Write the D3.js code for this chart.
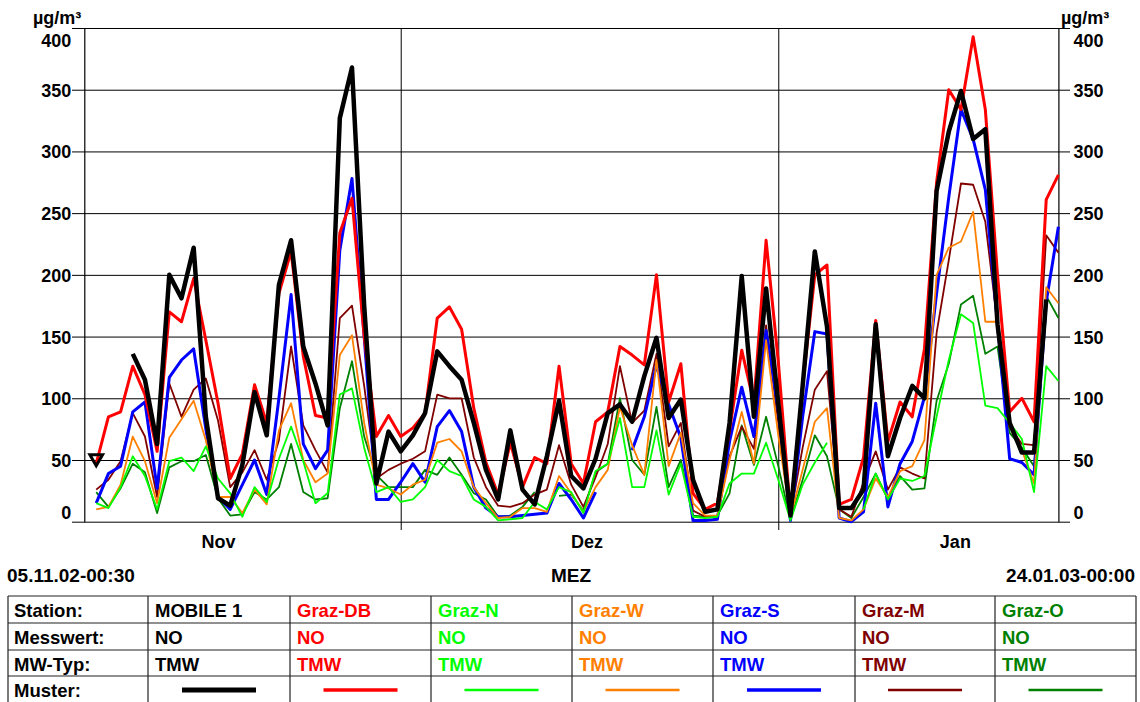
<!DOCTYPE html>
<html>
<head>
<meta charset="utf-8">
<script src="https://cdn.jsdelivr.net/npm/d3@7"></script>
<style>
  body { margin: 0; background: #fff; }
  text { font-family: "Liberation Sans", Arial, sans-serif; font-weight: bold; }
</style>
</head>
<body>
<div id="container"></div>
<script>
/* DATA - NO daily means (TMW), one value per day, 05.11.02 .. 23.01.03 */
const firstDay = Date.UTC(2002, 10, 6);   // daily mean is plotted at the end of its day
const mobile1 = [52,null,null,136,115,63,200,181,222,85,19,13,46,105,70,192,228,142,112,78,
  327,368,175,31,73,57,70,88,138,126,115,80,42,18,74,26,14,53,98,37,
  27,51,88,95,81,118,149,84,99,34,8,10,80,199,85,189,96,5,110,219,
  158,11,11,26,160,53,84,110,100,268,316,349,310,318,160,80,56,56,180,null];
const grazDB = [47,85,89,126,103,57,170,162,197,147,96,35,55,111,80,185,219,134,86,84,
  234,262,150,69,86,69,76,88,165,174,156,92,48,22,64,28,52,47,126,47,
  31,81,89,142,135,127,200,97,128,23,10,15,74,139,96,228,130,7,110,200,
  208,14,18,52,163,65,97,85,140,275,350,334,393,334,200,89,100,81,261,281];
const grazN = [15,11,28,53,37,10,49,52,41,61,35,23,4,28,16,51,77,49,15,23,
  103,108,60,24,28,16,18,28,50,41,37,18,12,1,2,3,16,10,28,24,
  7,41,47,84,28,28,74,22,47,4,3,4,31,39,39,64,34,1,30,48,
  64,null,null,10,39,18,35,33,37,85,131,168,161,94,92,80,67,24,126,114];
const grazW = [10,12,30,69,49,15,68,83,98,66,20,20,7,26,14,74,96,50,32,39,
  135,151,80,30,27,22,30,34,64,67,57,28,15,3,4,11,11,8,37,23,
  8,28,42,93,62,38,131,45,72,15,5,5,50,89,47,147,70,4,42,81,
  92,3,1,10,35,20,41,45,66,200,222,227,251,162,162,77,58,31,190,177];
const grazS = [15,39,45,89,97,27,117,131,140,75,20,10,30,50,22,100,184,63,43,58,
  220,278,150,18,18,32,47,32,77,90,73,28,11,4,4,5,6,7,31,18,
  3,24,null,null,58,85,127,95,68,1,1,2,65,109,69,155,90,1,85,154,
  152,3,0,8,96,12,47,65,101,185,263,334,310,269,160,51,48,38,178,239];
const grazM = [26,34,49,88,69,20,112,85,107,116,82,28,40,58,34,66,142,78,58,40,
  165,175,110,35,42,47,51,57,103,100,100,52,28,13,12,15,22,26,62,30,
  12,36,63,126,80,90,136,61,80,9,4,5,53,77,59,159,80,5,60,107,
  122,10,4,32,57,26,44,39,35,153,212,274,273,243,160,77,63,62,232,218];
const grazO = [24,12,27,47,40,7,44,49,49,54,19,5,6,24,18,28,63,24,18,19,
  92,130,69,38,28,28,28,42,38,52,38,23,18,4,5,12,24,null,21,22,
  9,40,47,100,50,38,93,28,50,5,4,5,23,78,46,85,45,1,34,70,
  53,10,3,20,39,18,37,26,27,98,128,176,183,136,142,72,60,45,183,165];

const stations = ["MOBILE 1", "Graz-DB", "Graz-N", "Graz-W", "Graz-S", "Graz-M", "Graz-O"];
const seriesValues = [mobile1, grazDB, grazN, grazW, grazS, grazM, grazO];
const colors = ["#000000", "#ff0000", "#00ff00", "#ff8000", "#0000ff", "#800000", "#008000"];
const widths = [4.5, 3, 1.8, 1.8, 3, 1.8, 1.8];

const yTicks = [0, 50, 100, 150, 200, 250, 300, 350, 400];
const monthNames = ["Nov", "Dez", "Jan"];
const monthMids = [Date.UTC(2002, 10, 16), Date.UTC(2002, 11, 16, 6), Date.UTC(2003, 0, 15, 12)];
const monthStarts = [Date.UTC(2002, 11, 1), Date.UTC(2003, 0, 1)];

const DAY = 24 * 3600 * 1000;

/* SVG */
const W = 1140, H = 702;
const plot = { left: 84.3, right: 1058.4, top: 28, bottom: 521.7 };

const svg = d3.select("#container").append("svg")
  .attr("width", W)
  .attr("height", H);

/* SCALES */
const x = d3.scaleUtc()
  .domain([Date.UTC(2002, 10, 5, 0, 30), Date.UTC(2003, 0, 24)])
  .range([plot.left, plot.right]);
const y = d3.scaleLinear().domain([0, 400]).range([plot.bottom, plot.top]);

/* GRID LINES (extend a bit past both axes) */
svg.append("g")
  .attr("transform", "translate(72,0)")
  .call(d3.axisRight(y).tickValues(yTicks).tickSize(998).tickFormat(""))
  .call(g => g.select(".domain").remove())
  .selectAll("line").attr("stroke", "#000").attr("stroke-width", 1);

/* MONTH DIVIDERS */
svg.append("g")
  .attr("transform", "translate(0,530)")
  .call(d3.axisBottom(x).tickValues(monthStarts).tickSize(-(530 - plot.top)).tickFormat(""))
  .call(g => g.select(".domain").remove())
  .selectAll("line").attr("stroke", "#000");

/* Y AXES */
const yLeft = svg.append("g")
  .attr("transform", "translate(" + plot.left + ",0)")
  .call(d3.axisLeft(y).tickValues(yTicks).tickSize(0).tickSizeOuter(0).tickPadding(13));
const yRight = svg.append("g")
  .attr("transform", "translate(" + plot.right + ",0)")
  .call(d3.axisRight(y).tickValues(yTicks).tickSize(0).tickSizeOuter(0).tickPadding(15));

[yLeft, yRight].forEach(g => {
  g.attr("font-size", null).attr("font-family", null);
  g.select(".domain").attr("stroke", "#000").attr("stroke-width", 1.2);
  g.selectAll("text")
    .style("font-size", "18px")
    .attr("fill", "#000")
    .attr("dy", d => d === 400 ? "1.05em" : d === 0 ? "-0.2em" : "0.36em");
});

/* UNIT LABELS */
svg.append("text").attr("x", 33).attr("y", 24).style("font-size", "18px").text("µg/m³");
svg.append("text").attr("x", 1061).attr("y", 24).style("font-size", "18px").text("µg/m³");

/* MONTH LABELS */
const xMonths = svg.append("g")
  .attr("transform", "translate(0," + plot.bottom + ")")
  .call(d3.axisBottom(x).tickValues(monthMids).tickSize(0).tickPadding(14)
    .tickFormat((d, i) => monthNames[i]));
xMonths.select(".domain").remove();
xMonths.attr("font-size", null).attr("font-family", null)
  .selectAll("text").style("font-size", "18px").attr("fill", "#000");

/* LINES */
const lineGen = d3.line()
  .defined(d => d.v != null)
  .x(d => x(d.t))
  .y(d => y(d.v));

const series = seriesValues.map((vals, s) => ({
  name: stations[s],
  color: colors[s],
  width: widths[s],
  points: vals.map((v, i) => ({ t: firstDay + i * DAY, v: v }))
}));

// first station is drawn last so it sits on top
svg.append("g").selectAll("path")
  .data(series.slice().reverse())
  .join("path")
  .attr("fill", "none")
  .attr("stroke", d => d.color)
  .attr("stroke-width", d => d.width)
  .attr("stroke-linejoin", "round")
  .attr("d", d => lineGen(d.points));

/* ISOLATED POINT MARKER (MOBILE 1, first day) */
const p0 = series[0].points[0];
svg.append("path")
  .attr("d", d3.symbol(d3.symbolTriangle, 70)())
  .attr("transform", "translate(" + x(p0.t) + "," + (y(p0.v) + 1) + ") rotate(180)")
  .attr("fill", "none")
  .attr("stroke", "#000")
  .attr("stroke-width", 3);

/* TIME RANGE TEXT */
svg.append("text").attr("x", 7).attr("y", 582).style("font-size", "19px").text("05.11.02-00:30");
svg.append("text").attr("x", 571).attr("y", 582).attr("text-anchor", "middle").style("font-size", "19px").text("MEZ");
svg.append("text").attr("x", 1135).attr("y", 582).attr("text-anchor", "end").style("font-size", "19px").text("24.01.03-00:00");

/* LEGEND TABLE */
const colEdges = [8, 148, 290, 431, 572, 713, 855, 995, 1136];
const rowEdges = [596, 623, 650, 676, 703];
const rowTitles = ["Station:", "Messwert:", "MW-Typ:", "Muster:"];
const table = svg.append("g");

table.selectAll("line.h")
  .data(rowEdges)
  .join("line")
  .attr("x1", colEdges[0]).attr("x2", colEdges[colEdges.length - 1])
  .attr("y1", d => d).attr("y2", d => d)
  .attr("stroke", "#222").attr("stroke-width", 1.2);
table.selectAll("line.v")
  .data(colEdges)
  .join("line")
  .attr("x1", d => d).attr("x2", d => d)
  .attr("y1", rowEdges[0]).attr("y2", rowEdges[rowEdges.length - 1])
  .attr("stroke", "#222").attr("stroke-width", 1.2);

rowTitles.forEach((t, r) => {
  table.append("text")
    .attr("x", colEdges[0] + 6)
    .attr("y", rowEdges[r] + 21)
    .style("font-size", "18.5px")
    .text(t);
});

series.forEach((s, c) => {
  const x0 = colEdges[c + 1];
  const x1 = colEdges[c + 2];
  const cells = [s.name, "NO", "TMW"];
  cells.forEach((t, r) => {
    table.append("text")
      .attr("x", x0 + 7)
      .attr("y", rowEdges[r] + 21)
      .attr("fill", s.color)
      .style("font-size", "18.5px")
      .text(t);
  });
  const mid = (x0 + x1) / 2;
  table.append("line")
    .attr("x1", mid - 37).attr("x2", mid + 37)
    .attr("y1", 690).attr("y2", 690)
    .attr("stroke", s.color)
    .attr("stroke-width", s.width + 0.5);
});
</script>
</body>
</html>
